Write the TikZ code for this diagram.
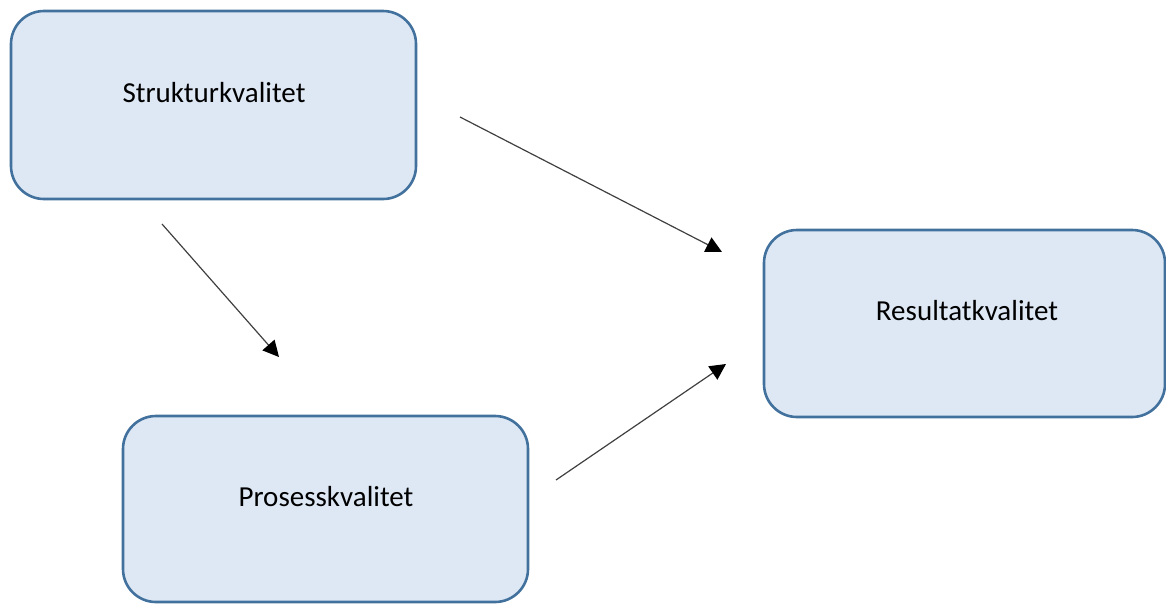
\documentclass[tikz,border=0pt]{standalone}
\usepackage{fontspec}
\setmainfont{Carlito}
\usetikzlibrary{arrows.meta}
\definecolor{boxfill}{HTML}{DEE8F5}
\definecolor{boxline}{HTML}{41719C}
\definecolor{arrowline}{HTML}{404040}
\begin{document}
\begin{tikzpicture}[x=1pt,y=-1pt,
  qbox/.style={draw=boxline,line width=2.6pt,fill=boxfill,rounded corners=33pt,
    minimum width=405pt,minimum height=188pt,inner sep=0pt},
  qtext/.style={font=\fontsize{29}{34}\selectfont,text=black,inner sep=0pt},
  conn/.style={draw=arrowline,line width=1.2pt,-{Triangle[length=16pt,width=16pt,color=black]}}]
\useasboundingbox (0,0) rectangle (1166,603);
\node[qbox] (S) at (213.5,105) {};
\node[qbox,minimum width=401pt,minimum height=187pt] (R) at (964.5,323.5) {};
\node[qbox,minimum height=186pt] (P) at (325.5,509) {};
\node[qtext] (St) at (214,93) {Strukturkvalitet};
\node[qtext] (Rt) at (967,311) {Resultatkvalitet};
\node[qtext] (Pt) at (326,497) {Prosesskvalitet};
\coordinate (a1) at (460,117);
\coordinate (a2) at (722,252);
\coordinate (b1) at (162,224);
\coordinate (b2) at (279,357);
\coordinate (c1) at (556,480);
\coordinate (c2) at (726,364);
\draw[conn] (a1) -- (a2);
\draw[conn] (b1) -- (b2);
\draw[conn] (c1) -- (c2);
\end{tikzpicture}
\end{document}
